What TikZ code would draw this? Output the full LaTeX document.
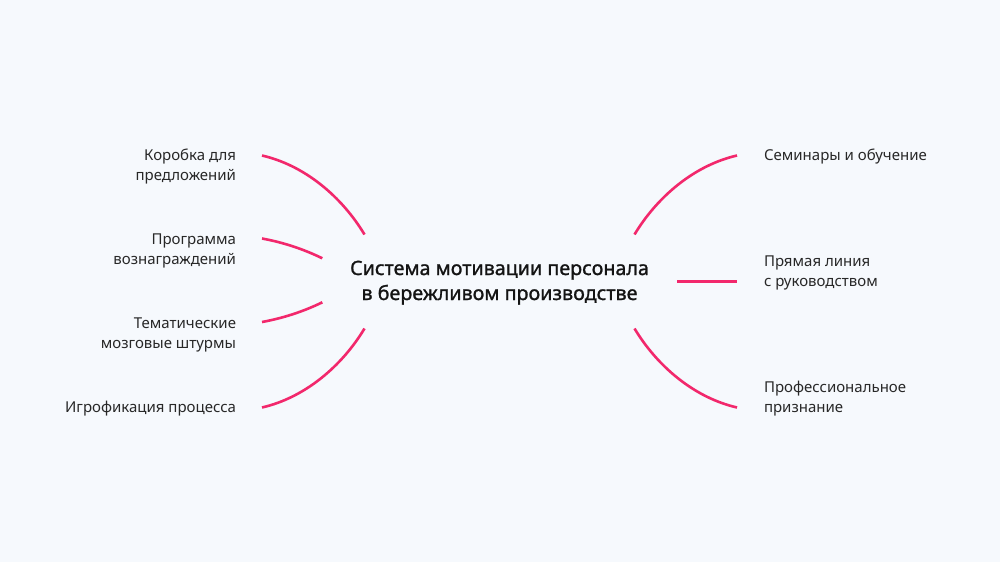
\documentclass[tikz,border=0pt]{standalone}
\usepackage{fontspec}
\setmainfont{Noto Sans}
\newfontfamily\centerfont{Noto Sans}[FakeBold=1.2]
\definecolor{bgc}{RGB}{246,249,253}
\definecolor{pinkc}{RGB}{242,40,108}
\definecolor{labc}{RGB}{40,40,40}
\definecolor{titc}{RGB}{20,20,20}
\tikzset{
  branch/.style={draw=pinkc, line width=2.6pt, line cap=butt},
  lab/.style={inner sep=0pt, outer sep=0pt, text=labc, font=\fontsize{15}{20}\selectfont},
  labL/.style={lab, anchor=base east},
  labR/.style={lab, anchor=base west},
  tit/.style={inner sep=0pt, outer sep=0pt, anchor=base, text=titc, font=\centerfont\fontsize{19.7}{25}\selectfont}
}
\begin{document}
\begin{tikzpicture}[x=1pt,y=-1pt]
\useasboundingbox (0,0) rectangle (1000,562);
\fill[bgc] (0,0) rectangle (1000,562);

% centre
\node[tit] (t1) at (499.5,275) {Система мотивации персонала};
\node[tit] (t2) at (499.5,300) {в бережливом производстве};

% left labels
\node[labL] (a1) at (236,160.5) {Коробка для};
\node[labL] (a2) at (236,180.5) {предложений};
\node[labL] (b1) at (236,244.5) {Программа};
\node[labL] (b2) at (236,264.5) {вознаграждений};
\node[labL] (c1) at (236,328.5) {Тематические};
\node[labL] (c2) at (236,348.5) {мозговые штурмы};
\node[labL] (d1) at (236,412.5) {Игрофикация процесса};

% right labels
\node[labR] (e1) at (764,160.5) {Семинары и обучение};
\node[labR] (f1) at (764,266.5) {Прямая линия};
\node[labR] (f2) at (764,286.5) {с руководством};
\node[labR] (g1) at (764,392.5) {Профессиональное};
\node[labR] (g2) at (764,412.5) {признание};

% branch end points
\coordinate (L1s) at (262,155.5);   \coordinate (L1e) at (364.5,234.5);
\coordinate (L2s) at (262,238.5);   \coordinate (L2e) at (322.3,258.3);
\coordinate (L3s) at (262,322);     \coordinate (L3e) at (322.3,302.3);
\coordinate (L4s) at (262,407.5);   \coordinate (L4e) at (364.5,328.5);
\coordinate (R1s) at (634.5,234.5); \coordinate (R1e) at (737,155.5);
\coordinate (R2s) at (677,281.5);   \coordinate (R2e) at (737,281.5);
\coordinate (R3s) at (634.5,328.5); \coordinate (R3e) at (737,407.5);

% branches
\draw[branch] (L1s) .. controls (304.9,165.4) and (341.8,196.8) .. (L1e);
\draw[branch] (L2s) .. controls (282.8,242.3) and (303.3,249.0) .. (L2e);
\draw[branch] (L3s) .. controls (282.8,318.2) and (303.3,311.6) .. (L3e);
\draw[branch] (L4e) .. controls (341.8,366.2) and (304.9,397.6) .. (L4s);
\draw[branch] (R1s) .. controls (657.2,196.8) and (694.1,165.4) .. (R1e);
\draw[branch] (R2s) -- (R2e);
\draw[branch] (R3s) .. controls (657.2,366.2) and (694.1,397.6) .. (R3e);
\end{tikzpicture}
\end{document}
